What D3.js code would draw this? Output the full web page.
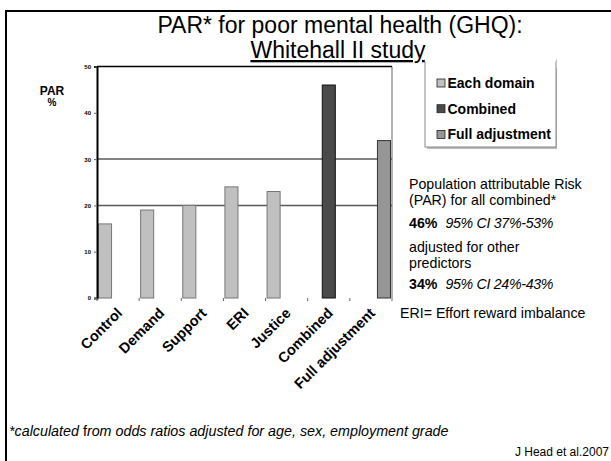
<!DOCTYPE html>
<html><head><meta charset="utf-8">
<script src="https://cdn.jsdelivr.net/npm/d3@7"></script>
<style>html,body{margin:0;padding:0;background:#fff;}svg{display:block;font-family:"Liberation Sans",Arial,sans-serif;}</style>
</head><body><svg id="c" width="611" height="461"></svg>
<script>
const categories = ["Control","Demand","Support","ERI","Justice","Combined","Full adjustment"];
const seriesNames = ["Each domain","Combined","Full adjustment"];
const eachDomain = [16,19,20,24,23,0,0];
const combined = [0,0,0,0,0,46,0];
const fullAdjustment = [0,0,0,0,0,0,34];
const yTicks = [0,10,20,30,40,50];
const gridValues = [20,30];
const colors = ["#c0c0c0","#4a4a4a","#969696"];
const strokes = ["#777","#111","#333"];

const svg = d3.select("#c");
const L=97, R=392, T=66.5, B=298;
const x = d3.scaleBand().domain(categories).range([L,R]).paddingInner(0).paddingOuter(0);
const xs = d3.scaleBand().domain(seriesNames).range([1.5, x.bandwidth()-1.5]).padding(0);
const y = d3.scaleLinear().domain([0,50]).range([B,T]);

// outer frame
svg.append("path").attr("d","M6,461 V11 H611").attr("fill","none").attr("stroke","#000").attr("stroke-width",2);

// title
svg.append("text").attr("text-anchor","middle").attr("font-size",23).attr("x",340).attr("y",33).text("PAR* for poor mental health (GHQ):");
svg.append("text").attr("text-anchor","middle").attr("font-size",23).attr("x",338).attr("y",58).attr("text-decoration","underline").text("Whitehall II study");

// grid lines
svg.selectAll("line.grid").data(gridValues).join("line").attr("class","grid")
  .attr("x1",L).attr("x2",R).attr("y1",d=>y(d)).attr("y2",d=>y(d))
  .attr("stroke","#595959").attr("stroke-width",1.5);

// right border and top
svg.append("line").attr("x1",R).attr("x2",R).attr("y1",T).attr("y2",B).attr("stroke","#666").attr("stroke-width",1);
svg.append("line").attr("x1",L).attr("x2",R).attr("y1",T).attr("y2",T).attr("stroke","#000").attr("stroke-width",1.5);

// bars
const allSeries = [eachDomain, combined, fullAdjustment];
const barData = [];
allSeries.forEach((vals,si)=>vals.forEach((v,ci)=>{ if(v>0) barData.push({c:categories[ci], s:seriesNames[si], si, v}); }));
svg.selectAll("rect.bar").data(barData).join("rect").attr("class","bar")
  .attr("x",d=>x(d.c)+xs(d.s)).attr("width",xs.bandwidth())
  .attr("y",d=>y(d.v)).attr("height",d=>y(0)-y(d.v))
  .attr("fill",d=>colors[d.si]).attr("stroke",d=>strokes[d.si]).attr("stroke-width",1);

// y axis
const yAxis = d3.axisLeft(y).tickValues(yTicks).tickSize(3).tickPadding(3);
const ya = svg.append("g").attr("transform",`translate(${L},0)`).call(yAxis);
ya.select(".domain").attr("stroke","#000").attr("stroke-width",2);
ya.selectAll(".tick line").attr("stroke","#666");
ya.selectAll(".tick text").attr("font-size",6).attr("font-weight","bold").attr("fill","#000").attr("font-family","Liberation Sans, Arial, sans-serif");

// x axis ticks at band edges
const edges = categories.map(c=>x(c)).concat([R]);
svg.selectAll("line.xt").data(edges).join("line").attr("class","xt")
  .attr("x1",d=>d).attr("x2",d=>d).attr("y1",B).attr("y2",B+3).attr("stroke","#666");

// x labels
svg.selectAll("text.xl").data(categories).join("text").attr("class","xl")
  .attr("transform",d=>`translate(${x(d)+x.bandwidth()/2+5},${B+16}) rotate(-45)`)
  .attr("text-anchor","end").attr("font-size",14.5).attr("font-weight","bold").text(d=>d);

// PAR % label
svg.append("text").attr("x",52).attr("y",95).attr("text-anchor","middle").attr("font-size",12).attr("font-weight","bold").text("PAR");
svg.append("text").attr("x",52).attr("y",106).attr("text-anchor","middle").attr("font-size",10).attr("font-weight","bold").text("%");

// legend
svg.append("rect").attr("x",427).attr("y",68).attr("width",130).attr("height",81).attr("fill","#bbb");
svg.append("rect").attr("x",425).attr("y",60).attr("width",131).attr("height",87).attr("fill","#fff").attr("stroke","#888").attr("stroke-width",1);
svg.append("line").attr("x1",425).attr("x2",556).attr("y1",60).attr("y2",60).attr("stroke","#fff").attr("stroke-width",3);
const lg = svg.selectAll("g.lg").data(seriesNames).join("g").attr("class","lg")
  .attr("transform",(d,i)=>`translate(437,${83+i*25.7})`);
lg.append("rect").attr("x",0).attr("y",-4).attr("width",8).attr("height",8)
  .attr("fill",(d,i)=>colors[i]).attr("stroke","#222").attr("stroke-width",0.8);
lg.append("text").attr("x",10.5).attr("y",5).attr("font-size",14).attr("font-weight","bold").text(d=>d);

// side notes
const notes = svg.append("g").attr("font-size",14.2).attr("fill","#000");
notes.append("text").attr("x",409).attr("y",189).text("Population attributable Risk");
notes.append("text").attr("x",409).attr("y",205).text("(PAR) for all combined*");
const t1 = notes.append("text").attr("x",409).attr("y",228);
t1.append("tspan").attr("font-weight","bold").text("46%");
t1.append("tspan").attr("dx",8).attr("font-style","italic").attr("letter-spacing",-0.3).text("95% CI 37%-53%");
notes.append("text").attr("x",409).attr("y",252).text("adjusted for other");
notes.append("text").attr("x",409).attr("y",268).text("predictors");
const t2 = notes.append("text").attr("x",409).attr("y",289);
t2.append("tspan").attr("font-weight","bold").text("34%");
t2.append("tspan").attr("dx",8).attr("font-style","italic").attr("letter-spacing",-0.3).text("95% CI 24%-43%");
notes.append("text").attr("x",400).attr("y",318).text("ERI= Effort reward imbalance");

// footnote
const fn = svg.append("text").attr("x",9).attr("y",436).attr("font-size",14.3).attr("font-style","italic");
fn.append("tspan").text("*calculated ");
fn.append("tspan").attr("font-style","normal").text("f");
fn.append("tspan").text("rom odds ratios adjusted for age, sex, employment grade");
svg.append("text").attr("x",609).attr("y",456).attr("text-anchor","end").attr("font-size",12).text("J Head et al.2007");
</script></body></html>
